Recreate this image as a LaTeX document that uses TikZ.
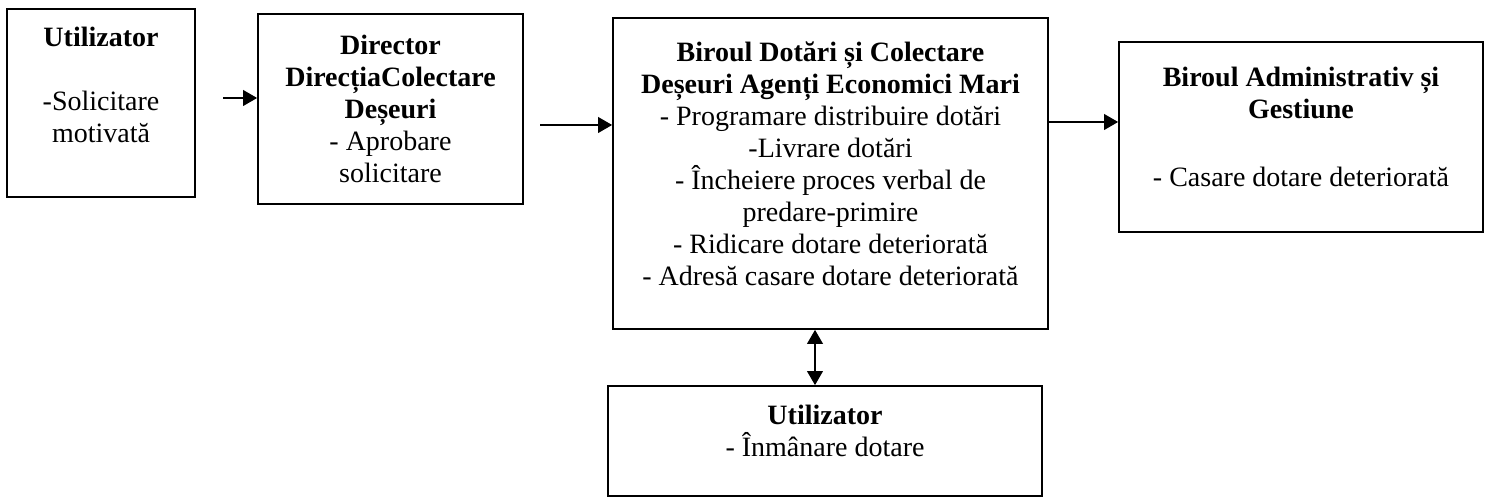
\documentclass[tikz,border=0pt]{standalone}
\usepackage{fontspec}
\setmainfont{Liberation Serif}
\usetikzlibrary{arrows}
\tikzset{
	box/.style = {
		draw, rectangle, align=center, inner sep=2pt, font=\fontsize{14}{16}\selectfont
	}
}
\tikzset{
	flow/.style = {
		-triangle 60
	}
}
\tikzset{
	twoway/.style = {
		flow, triangle 60-triangle 60
	}
}

\begin{document}
\begin{tikzpicture}[x=0.5pt, y=-0.5pt, line width=0.9pt]
	\useasboundingbox (0,0) rectangle (1485,501);

	\node[box, minimum width=94pt, minimum height=94pt](Utilizator) at (101,103){\textbf{Utilizator}\\[16pt]
		-Solicitare\\
		motivată\\[2pt]
		\mbox{}};
	\node[box, minimum width=132.5pt, minimum height=95pt](Director) at (390.5,109){\textbf{Director}\\
		\textbf{DirecțiaColectare}\\
		\textbf{Deșeuri}\\
		- Aprobare\\
		solicitare};
	\node[box, minimum width=217.5pt, minimum height=155.5pt](BiroulDotari) at (830.5,173.5){\textbf{Biroul Dotări și Colectare}\\
		\textbf{Deșeuri Agenți Economici Mari}\\
		- Programare distribuire dotări\\
		-Livrare dotări\\
		- Încheiere proces verbal de\\
		predare-primire\\
		- Ridicare dotare deteriorată\\
		- Adresă casare dotare deteriorată\\[-6pt]
		\mbox{}};
	\node[box, minimum width=182pt, minimum height=95pt](BiroulAdministrativ) at (1301,137){\textbf{Biroul Administrativ și}\\
		\textbf{Gestiune}\\[18pt]
		- Casare dotare deteriorată\\[-6pt]
		\mbox{}};
	\node[box, minimum width=217pt, minimum height=55pt](UtilizatorJos) at (825,441){\textbf{Utilizator}\\
		- Înmânare dotare\\[-6pt]
		\mbox{}};

	\coordinate (StartCerere) at (223,98);
	\coordinate (StartAprobare) at (540,125);
	\coordinate (NivelCasare) at (0,122);
	\coordinate (AxaPredare) at (815,0);

	\draw[flow] (StartCerere) -- (StartCerere -| Director.west);
	\draw[flow] (StartAprobare) -- (StartAprobare -| BiroulDotari.west);
	\draw[flow] (BiroulDotari.east |- NivelCasare) -- (NivelCasare -| BiroulAdministrativ.west);
	\draw[twoway] (BiroulDotari.south -| AxaPredare) -- (UtilizatorJos.north -| AxaPredare);
\end{tikzpicture}
\end{document}
